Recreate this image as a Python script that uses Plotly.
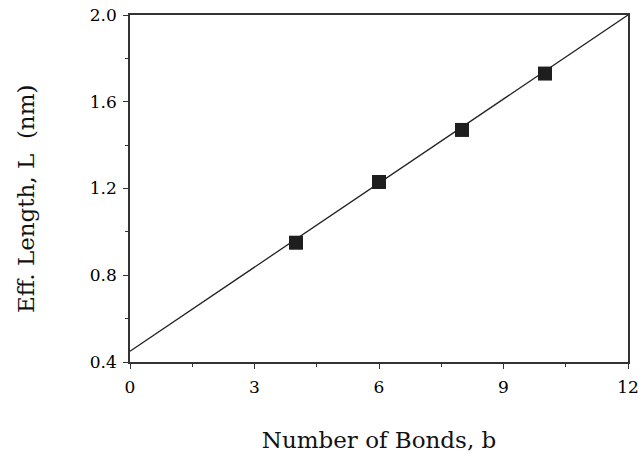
import plotly.graph_objects as go

bonds = [4, 6, 8, 10]
eff_length = [0.95, 1.23, 1.47, 1.73]
fit_x = [0, 12]
fit_y = [0.45, 2.0]
x_ticks = [0, 3, 6, 9, 12]
y_ticks = [0.4, 0.8, 1.2, 1.6, 2.0]
y_tick_labels = ["0.4", "0.8", "1.2", "1.6", "2.0"]
x_title = "Number of Bonds, b"
y_title = "Eff. Length, L  (nm)"

font_family = "DejaVu Serif"

fig = go.Figure()
fig.add_trace(go.Scatter(x=fit_x, y=fit_y, mode="lines",
                         line=dict(color="#222222", width=1.3),
                         showlegend=False, hoverinfo="skip", cliponaxis=False))
fig.add_trace(go.Scatter(x=bonds, y=eff_length, mode="markers",
                         marker=dict(symbol="square", size=14, color="#1e1e1e",
                                     line=dict(width=0)),
                         showlegend=False))

axis_common = dict(showgrid=False, zeroline=False, showline=True,
                   linecolor="#333333", linewidth=1.6, mirror=True,
                   ticks="outside", tickcolor="#333333", tickwidth=1.3,
                   automargin=False, ticklabeloverflow="allow",
                   tickfont=dict(family=font_family, size=17, color="#000000"))

fig.update_xaxes(range=[0, 12], tickvals=x_ticks, ticklen=5,
                 ticklabelstandoff=4,
                 minor=dict(dtick=1.5, ticks="outside", ticklen=3,
                            tickcolor="#333333", tickwidth=1.2),
                 title=dict(text=x_title,
                            font=dict(family=font_family, size=23, color="#111111"),
                            standoff=36),
                 **axis_common)
fig.update_yaxes(range=[0.4, 2.0], tickvals=y_ticks, ticktext=y_tick_labels,
                 ticklen=5, ticklabelstandoff=3,
                 minor=dict(dtick=0.2, ticks="outside", ticklen=3,
                            tickcolor="#333333", tickwidth=1.2),
                 **axis_common)

fig.add_annotation(text=y_title, xref="paper", yref="paper",
                   x=-0.2088, y=0.4697, xanchor="center", yanchor="middle",
                   textangle=-90, showarrow=False,
                   font=dict(family=font_family, size=23, color="#111111"))

fig.update_layout(width=639, height=454,
                  margin=dict(l=130, r=11, t=15, b=92),
                  paper_bgcolor="white", plot_bgcolor="white")

fig.write_html("out.html", config={"displayModeBar": False},
               post_script="document.body.style.margin='0';")
